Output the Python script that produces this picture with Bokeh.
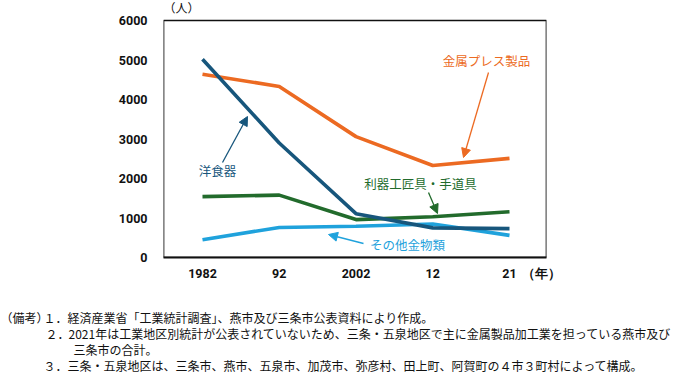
from bokeh.plotting import figure
from bokeh.models import Range1d, FixedTicker, Label, Arrow, NormalHead, BoxAnnotation
from bokeh.layouts import column
from bokeh.core.properties import value
from bokeh.embed import file_html
from bokeh.resources import INLINE

# ---- data ----
years = ["1982", "92", "2002", "12", "21"]
xpos = [0, 1, 2, 3, 4]
western_tableware = [5020, 2900, 1110, 750, 730]      # 洋食器
metal_press = [4640, 4330, 3060, 2330, 2510]          # 金属プレス製品
cutlery_tools = [1540, 1580, 960, 1030, 1160]         # 利器工匠具・手道具
other_hardware = [450, 760, 790, 850, 560]            # その他金物類
y_ticks = [0, 1000, 2000, 3000, 4000, 5000, 6000]
y_max = 6000
unit_y = "（人）"
unit_x = "（年）"
note_marks = ["（備考）", "１．", "２．", "", "３．"]
note_texts = [
    "",
    "経済産業省「工業統計調査」、燕市及び三条市公表資料により作成。",
    "2021年は工業地区別統計が公表されていないため、三条・五泉地区で主に金属製品加工業を担っている燕市及び",
    "三条市の合計。",
    "三条・五泉地区は、三条市、燕市、五泉市、加茂市、弥彦村、田上町、阿賀町の４市３町村によって構成。",
]

C_DARK = "#17567c"
C_ORANGE = "#ec6a22"
C_GREEN = "#226b2c"
C_LIGHT = "#1fa2dc"
JP = "Noto Sans CJK JP"
NUM = "Roboto"

W = 693
H1 = 298
H2 = 79

FRAME_L, FRAME_R, FRAME_BOTTOM, TOP_6000 = 163, 546, 257, 20
PX_PER_UNIT_Y = (FRAME_BOTTOM - TOP_6000) / float(y_max)
X0, X1 = -0.508, 4.482
Y_TOP = y_max + TOP_6000 / PX_PER_UNIT_Y   # headroom for the unit label

p = figure(width=W, height=H1, output_backend="svg", toolbar_location=None,
           x_range=Range1d(X0, X1), y_range=Range1d(0, Y_TOP),
           min_border_left=FRAME_L, min_border_right=W - FRAME_R,
           min_border_top=0, min_border_bottom=H1 - FRAME_BOTTOM)
p.grid.visible = False
p.outline_line_color = None
p.background_fill_color = "white"
p.border_fill_color = "white"
p.frame_align = False

# plot box (0..6000)
p.add_layout(BoxAnnotation(left=X0, right=X1, bottom=0, top=y_max,
                           fill_alpha=0, line_color="#111111", line_alpha=1.0,
                           line_width=1.7, level="overlay"))

def dx(px):
    return (px - 202) / 76.75

def dy(py):
    return (FRAME_BOTTOM - py) / PX_PER_UNIT_Y

for ax in (p.xaxis[0], p.yaxis[0]):
    ax.axis_line_color = None
    ax.major_tick_line_color = None
    ax.minor_tick_line_color = None
    ax.major_label_text_font = NUM
    ax.major_label_text_font_size = "12.5px"
    ax.major_label_text_font_style = "bold"
    ax.major_label_text_color = "#111111"
p.xaxis.axis_line_color = "#111111"
p.xaxis.axis_line_width = 1.8

unit_x_pos = round(dx(541), 3)
p.xaxis.ticker = FixedTicker(ticks=xpos + [unit_x_pos])
ov = {x: y for x, y in zip(xpos, years)}
ov[unit_x_pos] = unit_x
p.xaxis.major_label_overrides = ov
p.xaxis.major_label_standoff = 2
p.yaxis.ticker = FixedTicker(ticks=y_ticks)
p.yaxis.major_label_standoff = 10

lw = 3.6
p.line(xpos, metal_press, line_color=C_ORANGE, line_width=lw)
p.line(xpos, cutlery_tools, line_color=C_GREEN, line_width=lw)
p.line(xpos, other_hardware, line_color=C_LIGHT, line_width=lw)
p.line(xpos, western_tableware, line_color=C_DARK, line_width=lw)

def label(text, px, py, color, size="12.5px", baseline="middle"):
    p.add_layout(Label(x=dx(px), y=dy(py), text=text, text_color=color,
                       text_font=JP, text_font_size=size, text_align="center",
                       text_baseline=baseline))

def arrow(x0, y0, x1, y1, color):
    p.add_layout(Arrow(x_start=dx(x0), y_start=dy(y0), x_end=dx(x1), y_end=dy(y1),
                       line_color=color, line_width=1.3,
                       end=NormalHead(size=9, fill_color=color, line_color=color)))

label("洋食器", 217, 170, C_DARK)
arrow(222, 162, 247, 116, C_DARK)
label("金属プレス製品", 486, 60, C_ORANGE)
arrow(488, 72, 463, 157, C_ORANGE)
label("利器工匠具・手道具", 420, 183, C_GREEN)
arrow(428, 192, 437, 213, C_GREEN)
label("その他金物類", 407, 244, C_LIGHT)
arrow(363, 243, 328, 234, C_LIGHT)
label(unit_y, 181, 7, "#111111", size="12px")

# ---- notes panel ----
n = figure(width=W, height=H2, output_backend="svg", toolbar_location=None,
           x_range=Range1d(0, W), y_range=Range1d(H2, 0),
           min_border=0, x_axis_type=None, y_axis_type=None)
n.grid.visible = False
n.outline_line_color = None
n.background_fill_color = "white"
n.border_fill_color = "white"
n.frame_align = False

row_y = [19, 19, 35, 51, 67]
mark_x = [0, 43, 45, 0, 43]
text_x = [0, 67, 68, 73, 67]
n.text(x=mark_x, y=row_y, text=note_marks, text_font=value(JP), text_font_size="12px",
       text_color="#111111", text_align="left", text_baseline="middle")
n.text(x=text_x, y=row_y, text=note_texts, text_font=value(JP), text_font_size="12px",
       text_color="#111111", text_align="left", text_baseline="middle")

layout = column(p, n, spacing=0)
open("out.html", "w").write(file_html(layout, INLINE))
